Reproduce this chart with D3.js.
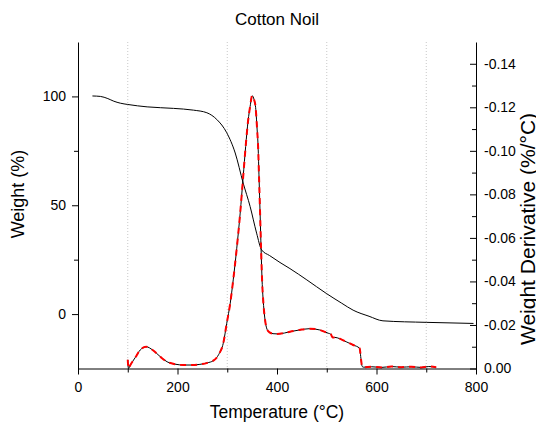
<!DOCTYPE html>
<html><head><meta charset="utf-8">
<script src="https://cdn.jsdelivr.net/npm/d3@7"></script>
<style>body{margin:0;background:#fff;} svg{display:block;}</style>
</head><body>
<svg id="chart" width="536" height="423"></svg>
<script>
// ---- data ----
const xTicks = [0, 200, 400, 600, 800];
const xMinorTicks = [100, 300, 500, 700];
const leftTicks = [0, 50, 100];
const leftMinorTicks = [25, 75];
const rightTicks = [0, -0.02, -0.04, -0.06, -0.08, -0.10, -0.12, -0.14];
const rightMinorTicks = [-0.01, -0.03, -0.05, -0.07, -0.09, -0.11, -0.13];

const weightT = [29, 45, 60, 72, 85, 100, 139, 192, 232, 259, 279, 299, 316, 332, 346, 359, 369, 385, 406, 426, 460, 499, 530, 553, 585, 613, 700, 795];
const weightV = [100.2, 100.0, 99.0, 97.8, 96.9, 96.3, 95.2, 94.5, 93.7, 92.5, 89.4, 83.3, 74.0, 60.2, 49.4, 37.2, 29.5, 26.9, 23.7, 20.9, 15.7, 9.5, 5.0, 1.8, -1.0, -3.1, -3.8, -4.3];

const derivT = [100, 101.5, 105, 115, 125, 137, 150, 165, 179, 195, 212, 230, 245, 260, 272, 283, 292, 299, 306, 312, 319, 326, 332, 337, 342, 346, 350, 354, 357, 360, 362, 364, 366, 368, 370, 373, 376, 380, 385, 392, 400, 415, 426, 445, 466, 486, 503, 508, 512, 516, 526, 530, 539, 553, 566, 569, 571, 574, 590, 610, 630, 650, 670, 690, 705, 720];
const derivV = [-0.0040, 0.0000, -0.0015, -0.0050, -0.0085, -0.0100, -0.0085, -0.0055, -0.0031, -0.0020, -0.0016, -0.0016, -0.0019, -0.0026, -0.0036, -0.0065, -0.0116, -0.0208, -0.0300, -0.0407, -0.0550, -0.0714, -0.0880, -0.1020, -0.1140, -0.1204, -0.1253, -0.1235, -0.1200, -0.1100, -0.1020, -0.0870, -0.0714, -0.0550, -0.0407, -0.0290, -0.0223, -0.0180, -0.0166, -0.0160, -0.0159, -0.0163, -0.0169, -0.0177, -0.0183, -0.0177, -0.0162, -0.0158, -0.0142, -0.0143, -0.0137, -0.0133, -0.0123, -0.0108, -0.0093, -0.0040, -0.0010, -0.0006, -0.0008, -0.0005, -0.0009, -0.0006, -0.0008, -0.0005, -0.0009, -0.0006];

// ---- layout ----
const L = 78, R = 476, T = 42, B = 368.5;
const svg = d3.select("#chart");
const font = "'Liberation Sans', Arial, sans-serif";

const x = d3.scaleLinear().domain([0, 800]).range([L, R]);
const yL = d3.scaleLinear().domain([-25, 125]).range([B, T]);
const yR = d3.scaleLinear().domain([0, -0.15]).range([B, T]);

// grid lines
svg.append("g").selectAll("line").data(xMinorTicks).join("line")
  .attr("x1", d => x(d)).attr("x2", d => x(d))
  .attr("y1", T).attr("y2", B)
  .attr("stroke", "#c8c8c8").attr("stroke-width", 1)
  .attr("stroke-dasharray", "1,2");

// curves
const weightData = weightT.map((t, i) => [t, weightV[i]]);
const derivData = derivT.map((t, i) => [t, derivV[i]]);

svg.append("path").datum(weightData)
  .attr("fill", "none").attr("stroke", "#000").attr("stroke-width", 1)
  .attr("d", d3.line().x(d => x(d[0])).y(d => yL(d[1])).curve(d3.curveMonotoneX));

const dLine = d3.line().x(d => x(d[0])).y(d => yR(d[1])).curve(d3.curveMonotoneX);
svg.append("path").datum(derivData)
  .attr("fill", "none").attr("stroke", "#000").attr("stroke-width", 1)
  .attr("d", dLine);
svg.append("path").datum(derivData)
  .attr("fill", "none").attr("stroke", "#ff0000").attr("stroke-width", 2)
  .attr("stroke-dasharray", "6,5")
  .attr("d", dLine);

// axes
function styleAxis(g) {
  g.selectAll("path.domain").attr("stroke", "#000").attr("stroke-width", 1);
  g.selectAll("line").attr("stroke", "#000");
  g.selectAll("text").attr("font-family", font).attr("font-size", 14).attr("fill", "#000");
}

const gx = svg.append("g").attr("transform", `translate(0,${B})`)
  .call(d3.axisBottom(x).tickValues(xTicks).tickSizeInner(6).tickSizeOuter(0).tickPadding(8).tickFormat(d3.format("d")));
styleAxis(gx);
svg.append("g").attr("transform", `translate(0,${B})`)
  .call(d3.axisBottom(x).tickValues(xMinorTicks).tickSizeInner(4).tickSizeOuter(0).tickFormat(""))
  .call(g => g.select(".domain").remove()).call(styleAxis);

const gl = svg.append("g").attr("transform", `translate(${L},0)`)
  .call(d3.axisLeft(yL).tickValues(leftTicks).tickSizeInner(6).tickSizeOuter(0).tickPadding(6).tickFormat(d3.format("d")));
styleAxis(gl);
svg.append("g").attr("transform", `translate(${L},0)`)
  .call(d3.axisLeft(yL).tickValues(leftMinorTicks).tickSizeInner(4).tickSizeOuter(0).tickFormat(""))
  .call(g => g.select(".domain").remove()).call(styleAxis);

const gr = svg.append("g").attr("transform", `translate(${R},0)`)
  .call(d3.axisRight(yR).tickValues(rightTicks).tickSizeInner(-6).tickSizeOuter(0).tickPadding(8).tickFormat(d3.format(".2f")));
styleAxis(gr);
gr.selectAll(".tick text").text(d => d === 0 ? "0.00" : "-" + d3.format(".2f")(Math.abs(d)));
svg.append("g").attr("transform", `translate(${R},0)`)
  .call(d3.axisRight(yR).tickValues(rightMinorTicks).tickSizeInner(-4).tickSizeOuter(0).tickFormat(""))
  .call(g => g.select(".domain").remove()).call(styleAxis);

// titles
svg.append("text").attr("x", 277).attr("y", 25).attr("text-anchor", "middle")
  .attr("font-family", font).attr("font-size", 17).text("Cotton Noil");
svg.append("text").attr("x", 277).attr("y", 418).attr("text-anchor", "middle")
  .attr("font-family", font).attr("font-size", 17.5).text("Temperature (°C)");
svg.append("text").attr("transform", "translate(24,194) rotate(-90)").attr("text-anchor", "middle")
  .attr("font-family", font).attr("font-size", 18).text("Weight (%)");
svg.append("text").attr("transform", "translate(535,229) rotate(-90)").attr("text-anchor", "middle")
  .attr("font-family", font).attr("font-size", 21).text("Weight Derivative (%/°C)");
</script>
</body></html>
